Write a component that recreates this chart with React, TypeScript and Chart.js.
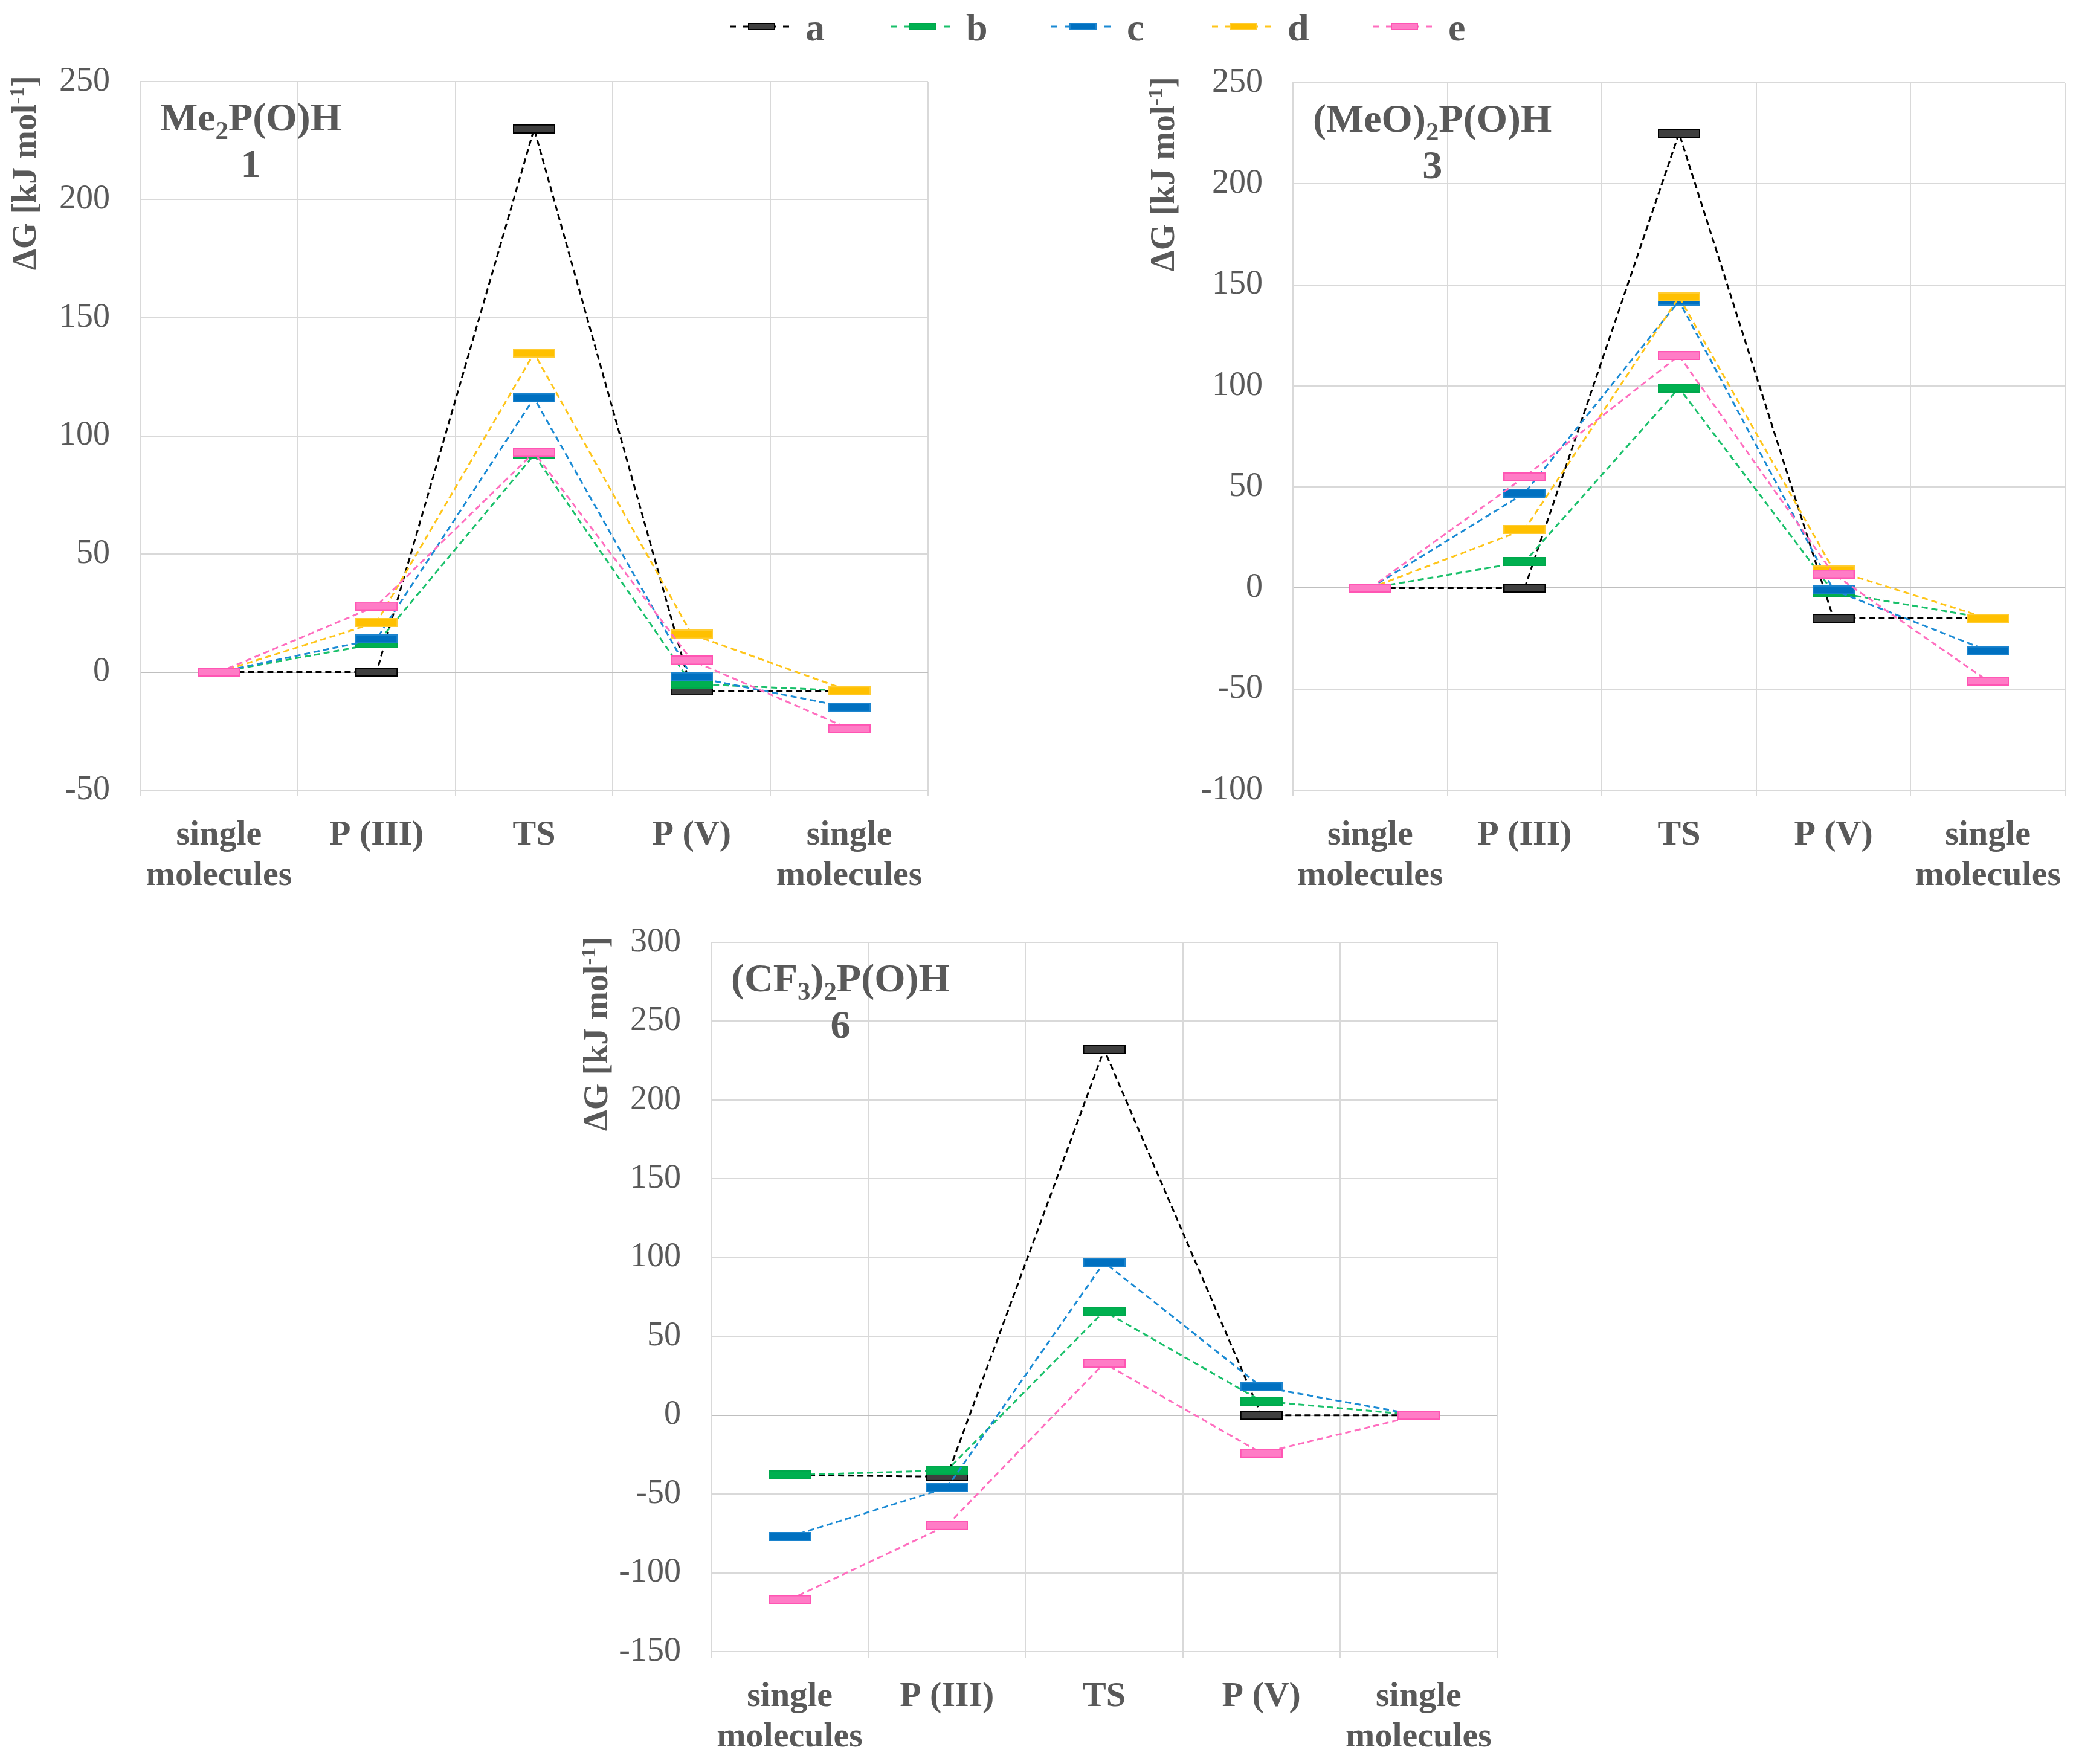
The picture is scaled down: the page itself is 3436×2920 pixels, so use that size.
import { useEffect, useRef } from 'react';
import type { ReactNode } from 'react';
import Chart from 'chart.js/auto';

// categories on the reaction coordinate
const categories = [['single', 'molecules'], 'P (III)', 'TS', 'P (V)', ['single', 'molecules']];
const seriesNames = ['a', 'b', 'c', 'd', 'e'];

// ΔG values [kJ/mol], Me2P(O)H (1)
const me2A = [0, 0, 230, -8, -8];
const me2B = [0, 12, 92, -5, -8];
const me2C = [0, 14, 116, -2, -15];
const me2D = [0, 21, 135, 16, -8];
const me2E = [0, 28, 93, 5, -24];

// (MeO)2P(O)H (3)
const meoA = [0, 0, 225, -15, -15];
const meoB = [0, 13, 99, -2, -15];
const meoC = [0, 47, 142, -1, -31];
const meoD = [0, 29, 144, 9, -15];
const meoE = [0, 55, 115, 7, -46];

// (CF3)2P(O)H (6) - no series d
const cf3A = [-38, -39, 232, 0, 0];
const cf3B = [-38, -35, 66, 9, 0];
const cf3C = [-77, -46, 97, 18, 0];
const cf3D: (number | null)[] = [null, null, null, null, null];
const cf3E = [-117, -70, 33, -24, 0];

// y axis ranges
const me2Range = [-50, 250];
const meoRange = [-100, 250];
const cf3Range = [-150, 300];
const yStep = 50;

const lineColors = ['#000000', '#19C06A', '#1A8AD4', '#FFC51A', '#FF6EBF'];
const fillColors = ['#3F3F3F', '#00B050', '#0070C0', '#FFC000', '#FF7CC6'];
const edgeColors = ['#000000', '#00A84C', '#1C84CE', '#FFCC33', '#FF55B3'];

const FONT = "'Liberation Serif', 'Times New Roman', serif";
const TEXT = '#595959';
const GRID = '#D9D9D9';

function makeMarker(fill: string, edge: string, w: number, h: number) {
  const c = document.createElement('canvas');
  c.width = w;
  c.height = h;
  const g = c.getContext('2d')!;
  g.fillStyle = fill;
  g.fillRect(0, 0, w, h);
  g.strokeStyle = edge;
  g.lineWidth = 2;
  g.strokeRect(1, 1, w - 2, h - 2);
  return c;
}

interface PanelProps {
  left: number;
  top: number;
  width: number;
  height: number;
  plotLeft: number;
  plotTop: number;
  plotRight: number;
  plotBottom: number;
  titleX: number;
  range: number[];
  series: (number | null)[][];
  name: ReactNode;
  num: string;
}

function Panel(p: PanelProps) {
  const canvasRef = useRef<HTMLCanvasElement>(null);

  useEffect(() => {
    if (!canvasRef.current) return;
    const ctx = canvasRef.current.getContext('2d');
    if (!ctx) return;

    const yWidth = p.plotLeft - p.left;
    const xHeight = p.top + p.height - p.plotBottom;

    const chart = new Chart(ctx, {
      type: 'line',
      data: {
        labels: categories,
        datasets: p.series.map((data, i) => ({
          label: seriesNames[i],
          data,
          borderColor: lineColors[i],
          borderWidth: 3,
          borderDash: [10, 6],
          pointStyle: makeMarker(fillColors[i], edgeColors[i], 70, 15),
          pointRadius: 8,
          pointHoverRadius: 8,
          fill: false,
          tension: 0,
          order: seriesNames.length - i,
        })),
      },
      options: {
        responsive: false,
        animation: false,
        devicePixelRatio: 1,
        layout: {
          padding: {
            left: 0,
            top: p.plotTop - p.top,
            right: p.left + p.width - p.plotRight,
            bottom: 0,
          },
        },
        scales: {
          x: {
            type: 'category',
            offset: true,
            grid: { offset: true, color: GRID, lineWidth: 2, drawTicks: true, tickLength: 10 },
            border: { color: GRID, width: 2 },
            ticks: {
              color: TEXT,
              font: { family: FONT, size: 58, weight: 'bold', lineHeight: 1.16 },
              padding: 31,
              maxRotation: 0,
              autoSkip: false,
            },
            afterFit: (scale) => {
              scale.height = xHeight;
              // keep the plot edges where they are set
              scale.paddingLeft = 0;
              scale.paddingRight = 0;
            },
          },
          y: {
            min: p.range[0],
            max: p.range[1],
            ticks: {
              stepSize: yStep,
              color: TEXT,
              font: { family: FONT, size: 56 },
              padding: 2,
            },
            grid: {
              color: (c) => (c.tick && c.tick.value === 0 ? '#BFBFBF' : GRID),
              lineWidth: 2,
              drawTicks: true,
              tickLength: 48,
              tickColor: 'rgba(0,0,0,0)',
            },
            border: { color: GRID, width: 2 },
            afterFit: (scale) => {
              scale.width = yWidth;
            },
          },
        },
        plugins: {
          legend: { display: false },
          tooltip: { enabled: false },
        },
      },
    });

    return () => {
      chart.destroy();
    };
  }, []);

  const boxW = 500;
  const titleEnd = p.plotTop - 10;

  return (
    <>
      <canvas
        ref={canvasRef}
        width={p.width}
        height={p.height}
        style={{ position: 'absolute', left: p.left, top: p.top, width: p.width, height: p.height }}
      />
      {/* y axis title, reading bottom to top, ending near the plot top */}
      <div
        style={{
          position: 'absolute',
          left: p.titleX,
          top: titleEnd + boxW,
          width: boxW,
          height: 60,
          transformOrigin: '0 0',
          transform: 'rotate(-90deg)',
          textAlign: 'right',
          whiteSpace: 'nowrap',
          font: `bold 56px ${FONT}`,
          lineHeight: '60px',
          color: TEXT,
        }}
      >
        ΔG [kJ mol<sup style={{ fontSize: '0.62em', lineHeight: 0 }}>-1</sup>]
      </div>
      {/* compound label */}
      <div
        style={{
          position: 'absolute',
          left: p.plotLeft + 33,
          top: p.plotTop + 20,
          textAlign: 'center',
          whiteSpace: 'nowrap',
          font: `bold 66px ${FONT}`,
          lineHeight: '77px',
          color: TEXT,
        }}
      >
        <div>{p.name}</div>
        <div>{p.num}</div>
      </div>
    </>
  );
}

const subStyle = { fontSize: '0.65em', lineHeight: 0 };

function Legend() {
  return (
    <>
      {seriesNames.map((n, i) => (
        <div key={n} style={{ position: 'absolute', left: 1208 + i * 266, top: 0, width: 200, height: 90 }}>
          <svg width={104} height={20} style={{ position: 'absolute', left: 0, top: 34 }}>
            <line x1={0} y1={10} x2={104} y2={10} stroke={lineColors[i]} strokeWidth={3} strokeDasharray="10 12" />
            <rect x={31} y={5} width={43} height={10} fill={fillColors[i]} stroke={edgeColors[i]} strokeWidth={2} />
          </svg>
          <span
            style={{
              position: 'absolute',
              left: 125,
              top: 14,
              font: `bold 64px ${FONT}`,
              lineHeight: '64px',
              color: TEXT,
            }}
          >
            {n}
          </span>
        </div>
      ))}
    </>
  );
}

export default function App() {
  return (
    <div
      style={{
        position: 'absolute',
        left: 0,
        top: 0,
        width: 3436,
        height: 2920,
        background: '#ffffff',
        overflow: 'hidden',
        fontFamily: FONT,
      }}
    >
      <Legend />
      <Panel
        left={0}
        top={80}
        width={1560}
        height={1440}
        plotLeft={232}
        plotTop={135}
        plotRight={1536}
        plotBottom={1308}
        titleX={10}
        range={me2Range}
        series={[me2A, me2B, me2C, me2D, me2E]}
        name={<>Me<sub style={subStyle}>2</sub>P(O)H</>}
        num="1"
      />
      <Panel
        left={1880}
        top={80}
        width={1556}
        height={1440}
        plotLeft={2140}
        plotTop={137}
        plotRight={3418}
        plotBottom={1308}
        titleX={1894}
        range={meoRange}
        series={[meoA, meoB, meoC, meoD, meoE]}
        name={<>(MeO)<sub style={subStyle}>2</sub>P(O)H</>}
        num="3"
      />
      <Panel
        left={900}
        top={1500}
        width={1600}
        height={1420}
        plotLeft={1177}
        plotTop={1560}
        plotRight={2478}
        plotBottom={2734}
        titleX={956}
        range={cf3Range}
        series={[cf3A, cf3B, cf3C, cf3D, cf3E]}
        name={<>(CF<sub style={subStyle}>3</sub>)<sub style={subStyle}>2</sub>P(O)H</>}
        num="6"
      />
    </div>
  );
}
